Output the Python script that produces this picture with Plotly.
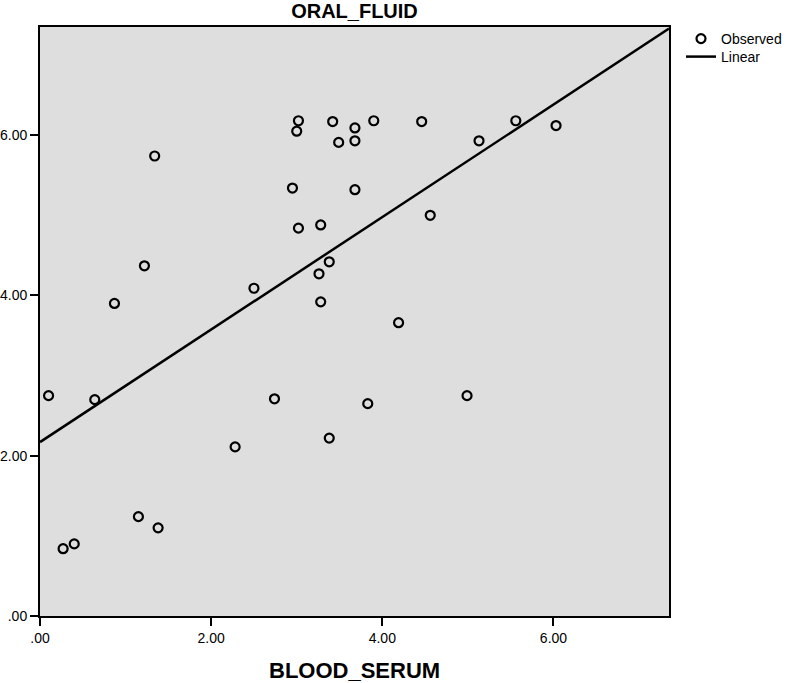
import plotly.graph_objects as go

# Data
blood_serum = [0.10, 0.64, 0.87, 1.22, 1.34, 0.27, 0.40, 1.15, 1.38, 2.28,
               2.50, 2.74, 2.95, 3.02, 3.00, 3.02, 3.26, 3.28, 3.28, 3.38,
               3.38, 3.42, 3.49, 3.68, 3.68, 3.68, 3.83, 3.90, 4.19, 4.46,
               4.56, 4.99, 5.13, 5.56, 6.03]
oral_fluid = [2.75, 2.70, 3.90, 4.37, 5.74, 0.84, 0.90, 1.24, 1.10, 2.11,
              4.09, 2.71, 5.34, 6.18, 6.05, 4.84, 4.27, 3.92, 4.88, 4.42,
              2.22, 6.17, 5.91, 6.09, 5.93, 5.32, 2.65, 6.18, 3.66, 6.17,
              5.00, 2.75, 5.93, 6.18, 6.12]

# Linear fit line (end points)
fit_x = [0.0, 7.35]
fit_y = [2.17, 7.33]

tick_vals = [0, 2, 4, 6]
tick_text = [".00", "2.00", "4.00", "6.00"]

FONT = "Liberation Sans, Arial, sans-serif"

fig = go.Figure()
fig.add_trace(go.Scatter(
    x=blood_serum, y=oral_fluid, mode="markers", name="Observed",
    marker=dict(symbol="circle-open", size=9, color="black",
                line=dict(color="black", width=2.2)),
    legend="legend",
))
fig.add_trace(go.Scatter(
    x=fit_x, y=fit_y, mode="lines", name="Linear",
    line=dict(color="black", width=2.5),
    legend="legend2",
))

legend_common = dict(xref="container", yref="container", x=681 / 788,
                     xanchor="left", yanchor="top",
                     bgcolor="rgba(0,0,0,0)", borderwidth=0,
                     font=dict(size=14, family=FONT, color="black"),
                     itemwidth=30)

fig.update_layout(
    width=788, height=683,
    margin=dict(l=40, r=119, t=27, b=67),
    paper_bgcolor="white", plot_bgcolor="#DEDEDE",
    font=dict(family=FONT, color="black", size=15),
    title=dict(text="<b>ORAL_FLUID</b>", x=0.5, xref="paper", xanchor="center",
               y=1 - 11 / 683, yref="container", yanchor="middle",
               font=dict(size=20, family=FONT, color="black")),
    showlegend=True,
    legend=dict(y=1 - 23 / 683, **legend_common),
    legend2=dict(y=1 - 41 / 683, **legend_common),
    annotations=[dict(text="<b>BLOOD_SERUM</b>", x=0.5, xref="paper",
                      y=-(670.5 - 616) / 589, yref="paper",
                      xanchor="center", yanchor="middle", showarrow=False,
                      font=dict(size=22, family=FONT, color="black"))],
)

axis_style = dict(range=[0, 7.35], tickvals=tick_vals, ticktext=tick_text,
                  showgrid=False, zeroline=False, automargin=False,
                  showline=True, linecolor="black", linewidth=2, mirror=True,
                  ticks="outside", ticklen=8, tickwidth=2, tickcolor="black",
                  tickfont=dict(size=14, family=FONT, color="black"))
fig.update_xaxes(**axis_style)
fig.update_yaxes(**axis_style)

fig.write_html("out.html",
               config={"displayModeBar": False},
               post_script="document.body.style.margin='0';"
                           "document.body.style.overflow='hidden';")
